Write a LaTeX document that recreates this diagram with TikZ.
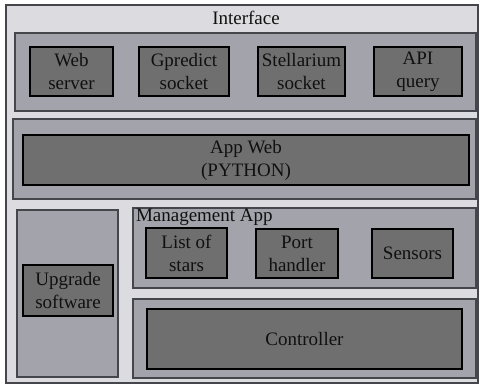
\documentclass[tikz,border=0pt]{standalone}
\usepackage{fontspec}
\setmainfont{Liberation Serif}
\newfontfamily\diafont{Liberation Serif}
\definecolor{bgc}{HTML}{DCDCE0}
\definecolor{secc}{HTML}{A3A3AB}
\definecolor{innc}{HTML}{6F6F6F}
\definecolor{edgec}{HTML}{45454C}
\definecolor{txtc}{HTML}{101010}
\begin{document}
\begin{tikzpicture}[x=1pt,y=-1pt,
  every node/.style={font=\diafont\fontsize{19}{23}\selectfont, text=txtc, inner sep=0pt, outer sep=0pt},
  frame/.style={draw=edgec, fill=bgc, line width=1.2pt, anchor=north west},
  section/.style={draw=edgec, fill=secc, line width=1.2pt, anchor=north west},
  block/.style={draw=black, fill=innc, line width=2.6pt, anchor=north west, align=center},
  lbl/.style={anchor=center}]
\useasboundingbox (0,0) rectangle (482,386);
\node[frame, minimum width=472pt, minimum height=378pt] (outer) at (6,5) {};
\node[lbl] (ifacelbl) at (246,18) {Interface};
% Interface section
\node[section, minimum width=461pt, minimum height=78pt] (iface) at (15,33) {};
\node[block, minimum width=83pt, minimum height=49pt] (web) at (30,47) {Web\\server};
\node[block, minimum width=90pt, minimum height=49pt] (gpredict) at (139,47) {Gpredict\\socket};
\node[block, minimum width=87pt, minimum height=49pt] (stell) at (258,47) {Stellarium\\socket};
\node[block, minimum width=88pt, minimum height=49pt] (api) at (374,47) {API\\query};
% App Web section
\node[section, minimum width=463pt, minimum height=80pt] (appweb) at (13,119) {};
\node[block, minimum width=446pt, minimum height=50pt] (python) at (23,135) {App Web\\(PYTHON)};
% Upgrade column
\node[section, minimum width=101pt, minimum height=167pt] (upcol) at (17,210) {};
\node[block, minimum width=90pt, minimum height=51pt] (upgrade) at (23,265) {Upgrade\\software};
% Management App section
\node[section, minimum width=343pt, minimum height=80pt] (mgmt) at (133,208) {};
\node[anchor=north west] (mgmtlbl) at (136,209) {Management App};
\node[block, minimum width=81pt, minimum height=50pt] (stars) at (146,228) {List of\\stars};
\node[block, minimum width=82pt, minimum height=49pt] (port) at (256,229) {Port\\handler};
\node[block, minimum width=81pt, minimum height=49pt] (sensors) at (372,229) {Sensors};
% Controller section
\node[section, minimum width=343pt, minimum height=79pt] (ctrlsec) at (133,299) {};
\node[block, minimum width=315pt, minimum height=60pt] (ctrl) at (147,309) {Controller};
\end{tikzpicture}
\end{document}
